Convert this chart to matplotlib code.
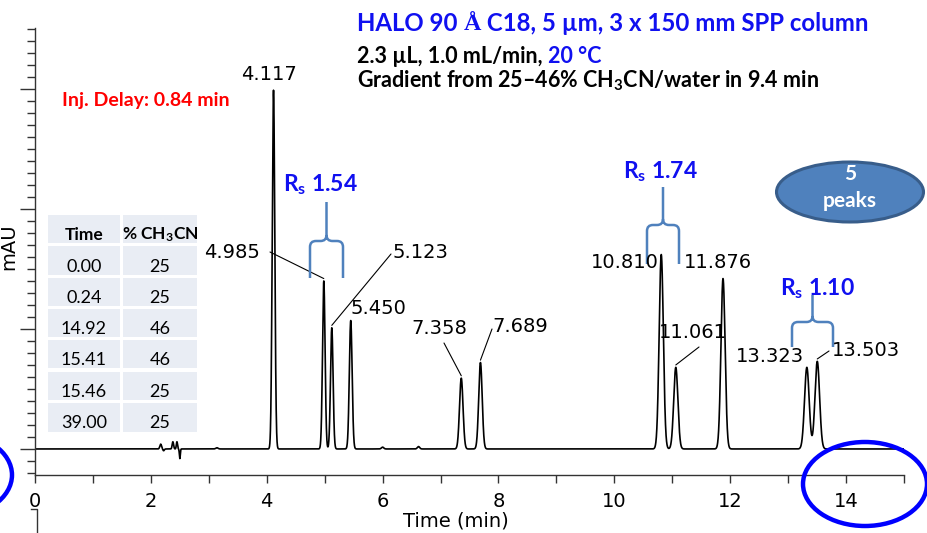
import numpy as np
import matplotlib
matplotlib.use('Agg')
import matplotlib.pyplot as plt
from matplotlib import transforms as mtransforms
from matplotlib.patches import Ellipse, Rectangle, PathPatch
from matplotlib.path import Path
from matplotlib.ticker import MultipleLocator, FixedLocator

plt.rcParams['mathtext.fontset'] = 'custom'
plt.rcParams['mathtext.rm'] = 'Lato'
plt.rcParams['mathtext.bf'] = 'Lato:bold'
plt.rcParams['mathtext.it'] = 'Lato:italic'

# ---------------- data ----------------
peak_times = [4.117, 4.985, 5.123, 5.450, 7.358, 7.689, 10.810, 11.061, 11.876, 13.323, 13.503]
peak_heights = [299, 140, 101, 107, 59, 72, 162, 68, 142, 68, 73]
peak_sigmas = [0.022, 0.022, 0.022, 0.024, 0.030, 0.030, 0.036, 0.036, 0.036, 0.040, 0.040]
peak_labels = ["4.117", "4.985", "5.123", "5.450", "7.358", "7.689",
               "10.810", "11.061", "11.876", "13.323", "13.503"]

noise_times = [2.17, 2.22, 2.38, 2.45, 2.50, 3.14, 6.00, 6.62]
noise_heights = [4.0, -1.5, 6.0, 6.0, -8.0, 1.0, 1.5, 2.0]
noise_sigmas = [0.015, 0.012, 0.012, 0.010, 0.008, 0.02, 0.02, 0.02]

table_header = ["Time", r"% C$\mathbf{H}_\mathbf{3}$CN"]
gradient_time = ["0.00", "0.24", "14.92", "15.41", "15.46", "39.00"]
gradient_pct = ["25", "25", "46", "46", "25", "25"]

rs_values = ["1.54", "1.74", "1.10"]

W, H = 927, 533
fig = plt.figure(figsize=(W / 100, H / 100), dpi=100)
# pixel coordinates, origin top-left
T = mtransforms.Affine2D().scale(1 / W, -1 / H).translate(0, 1) + fig.transFigure

ax = fig.add_axes([35 / W, (H - 475) / H, (904 - 35) / W, (475 - 28) / H])

t = np.linspace(0, 15, 9001)
y = np.zeros_like(t)
for tt, hh, ss in zip(peak_times, peak_heights, peak_sigmas):
    y += hh * np.exp(-0.5 * ((t - tt) / ss) ** 2)
for tt, hh, ss in zip(noise_times, noise_heights, noise_sigmas):
    y += hh * np.exp(-0.5 * ((t - tt) / ss) ** 2)

ax.plot(t, y, color='black', lw=1.2, solid_joinstyle='round')
ax.set_xlim(0, 15)
ax.set_ylim(-21.7, 350.8)
for s in ['top', 'right']:
    ax.spines[s].set_visible(False)
for s in ['left', 'bottom']:
    ax.spines[s].set_color('#333333')
    ax.spines[s].set_linewidth(1.0)

ax.xaxis.set_major_locator(MultipleLocator(2))
ax.xaxis.set_minor_locator(MultipleLocator(1))
ax.yaxis.set_major_locator(FixedLocator([0, 100, 200, 300]))
ax.yaxis.set_minor_locator(MultipleLocator(10))
ax.tick_params(axis='x', which='both', direction='out', length=5.8, width=1.0,
               color='#333333', labelsize=14, pad=6.5)
ax.tick_params(axis='y', which='major', direction='out', length=10.8, width=1.0,
               color='#333333', labelleft=False)
ax.tick_params(axis='y', which='minor', direction='out', length=5.8, width=1.0,
               color='#333333')

fig.text(456, 521, "Time (min)", transform=T, ha='center', va='center', fontsize=14)
fig.text(9, 247, "mAU", transform=T, ha='center', va='center', fontsize=14, rotation=90)

# peak labels: (text centre x, text centre y, leader start or None)
label_pos = [(269, 75, None), (232, 252, (270, 252)), (420, 253, (391, 254)),
             (378, 308, None), (439, 329, (444, 343)), (520, 327, (492, 329)),
             (625, 262, None), (693, 333, (699, 347)), (718, 262, None),
             (770, 357, None), (866, 351, (829, 351))]
for lab, tt, hh, (tx, ty, ls) in zip(peak_labels, peak_times, peak_heights, label_pos):
    fig.text(tx, ty, lab, transform=T, ha='center', va='center', fontsize=14)
    if ls is not None:
        ax.annotate("", xy=(tt, hh + 2), xycoords='data', xytext=ls, textcoords=T,
                    arrowprops=dict(arrowstyle='-', lw=0.8, color='black',
                                    shrinkA=0, shrinkB=0))

# Title block
blue = '#1010F0'
t1 = fig.text(357, 31, "HALO 90 ", transform=T, ha='left', va='baseline',
              fontsize=17.3, fontweight='bold', color=blue, family='Lato')
a1 = ax.annotate("Å", xy=(1, 0), xycoords=t1, va='bottom', ha='left',
                 fontsize=17.3, fontweight='bold', color=blue, family='Liberation Serif',
                 annotation_clip=False)
a2 = ax.annotate(" C18, 5 µm, 3 x 150 mm SPP column", xy=(1, 0), xycoords=(a1, t1),
                 va='bottom', ha='left', fontsize=17.3, fontweight='bold', color=blue,
                 family='Lato', annotation_clip=False)

t2 = fig.text(357, 63, "2.3 µL, 1.0 mL/min, ", transform=T, ha='left', va='baseline',
              fontsize=15.5, fontweight='bold', color='black', family='Lato')
ax.annotate("20 °C", xy=(1, 0), xycoords=t2, va='bottom', ha='left', fontsize=15.5,
            fontweight='bold', color=blue, family='Lato', annotation_clip=False)
fig.text(357, 88, r"Gradient from 25–46% C$\mathbf{H}_\mathbf{3}$CN/water in 9.4 min",
         transform=T, ha='left', va='baseline', fontsize=15.5, fontweight='bold',
         color='black', family='Lato')

fig.text(62, 106, "Inj. Delay: 0.84 min", transform=T, ha='left', va='baseline',
         fontsize=14, fontweight='bold', color='#FF0000', family='Lato')

# Rs labels and braces
rs_pos = [(320, 191), (660, 178), (817, 295)]
brace_geom = [(310, 343, 278, 241, 202), (647, 679, 264, 225, 187), (792, 833, 347, 322, 295)]
for val, (rx, ry), (L, R, yb, yt, yc) in zip(rs_values, rs_pos, brace_geom):
    fig.text(rx, ry, r"$\mathbf{R}_\mathbf{s}$ " + val, transform=T, ha='center',
             va='baseline', fontsize=16.5, fontweight='bold', color=blue, family='Lato')
    C = (L + R) / 2
    r = 6
    verts = [(L, yb), (L, yt + r), (L, yt), (L + r, yt), (C - r, yt), (C, yt), (C, yt - r), (C, yc),
             (R, yb), (R, yt + r), (R, yt), (R - r, yt), (C + r, yt), (C, yt), (C, yt - r)]
    codes = [Path.MOVETO, Path.LINETO, Path.CURVE3, Path.CURVE3, Path.LINETO, Path.CURVE3, Path.CURVE3,
             Path.LINETO,
             Path.MOVETO, Path.LINETO, Path.CURVE3, Path.CURVE3, Path.LINETO, Path.CURVE3, Path.CURVE3]
    fig.patches.append(PathPatch(Path(verts, codes), transform=T, fill=False,
                                 edgecolor='#4F81BD', lw=1.8, capstyle='butt'))

# gradient table
col_x = [(48, 120), (123, 197)]
row_y = [(215, 243), (246, 275), (278, 306), (309, 337), (340, 368), (372, 400), (403, 432)]
rows = [table_header] + [[a, b] for a, b in zip(gradient_time, gradient_pct)]
for ri, ((y0, y1), row) in enumerate(zip(row_y, rows)):
    for (x0, x1), txt in zip(col_x, row):
        fig.patches.append(Rectangle((x0, y0), x1 - x0, y1 - y0, transform=T,
                                     facecolor='#E9EDF4', edgecolor='none'))
        fig.text((x0 + x1) / 2, (y0 + y1) / 2 + 6, txt, transform=T, ha='center',
                 va='center', fontsize=12.5 if ri == 0 else 13,
                 fontweight='bold' if ri == 0 else 'normal', family='Lato', color='black')

# "5 peaks" badge
fig.patches.append(Ellipse((850, 192), 147, 60, transform=T, facecolor='#4F81BD',
                           edgecolor='#385D8A', lw=2.2))
fig.text(850, 174, "5", transform=T, ha='center', va='center', fontsize=15,
         fontweight='bold', color='white', family='Lato')
fig.text(850, 201, "peaks", transform=T, ha='center', va='center', fontsize=15,
         fontweight='bold', color='white', family='Lato')

# highlight ellipses
fig.patches.append(Ellipse((865, 484), 124, 84, transform=T, facecolor='none',
                           edgecolor='#0000FF', lw=3.2))
fig.patches.append(Ellipse((-48, 475), 120, 84, transform=T, facecolor='none',
                           edgecolor='#0000FF', lw=3.2))

# small bracket artefact at bottom-left
fig.lines.append(plt.Line2D([31, 37, 37], [509, 509, 533], transform=T, color='#333333', lw=1.0))

fig.savefig('out.png', dpi=100)
